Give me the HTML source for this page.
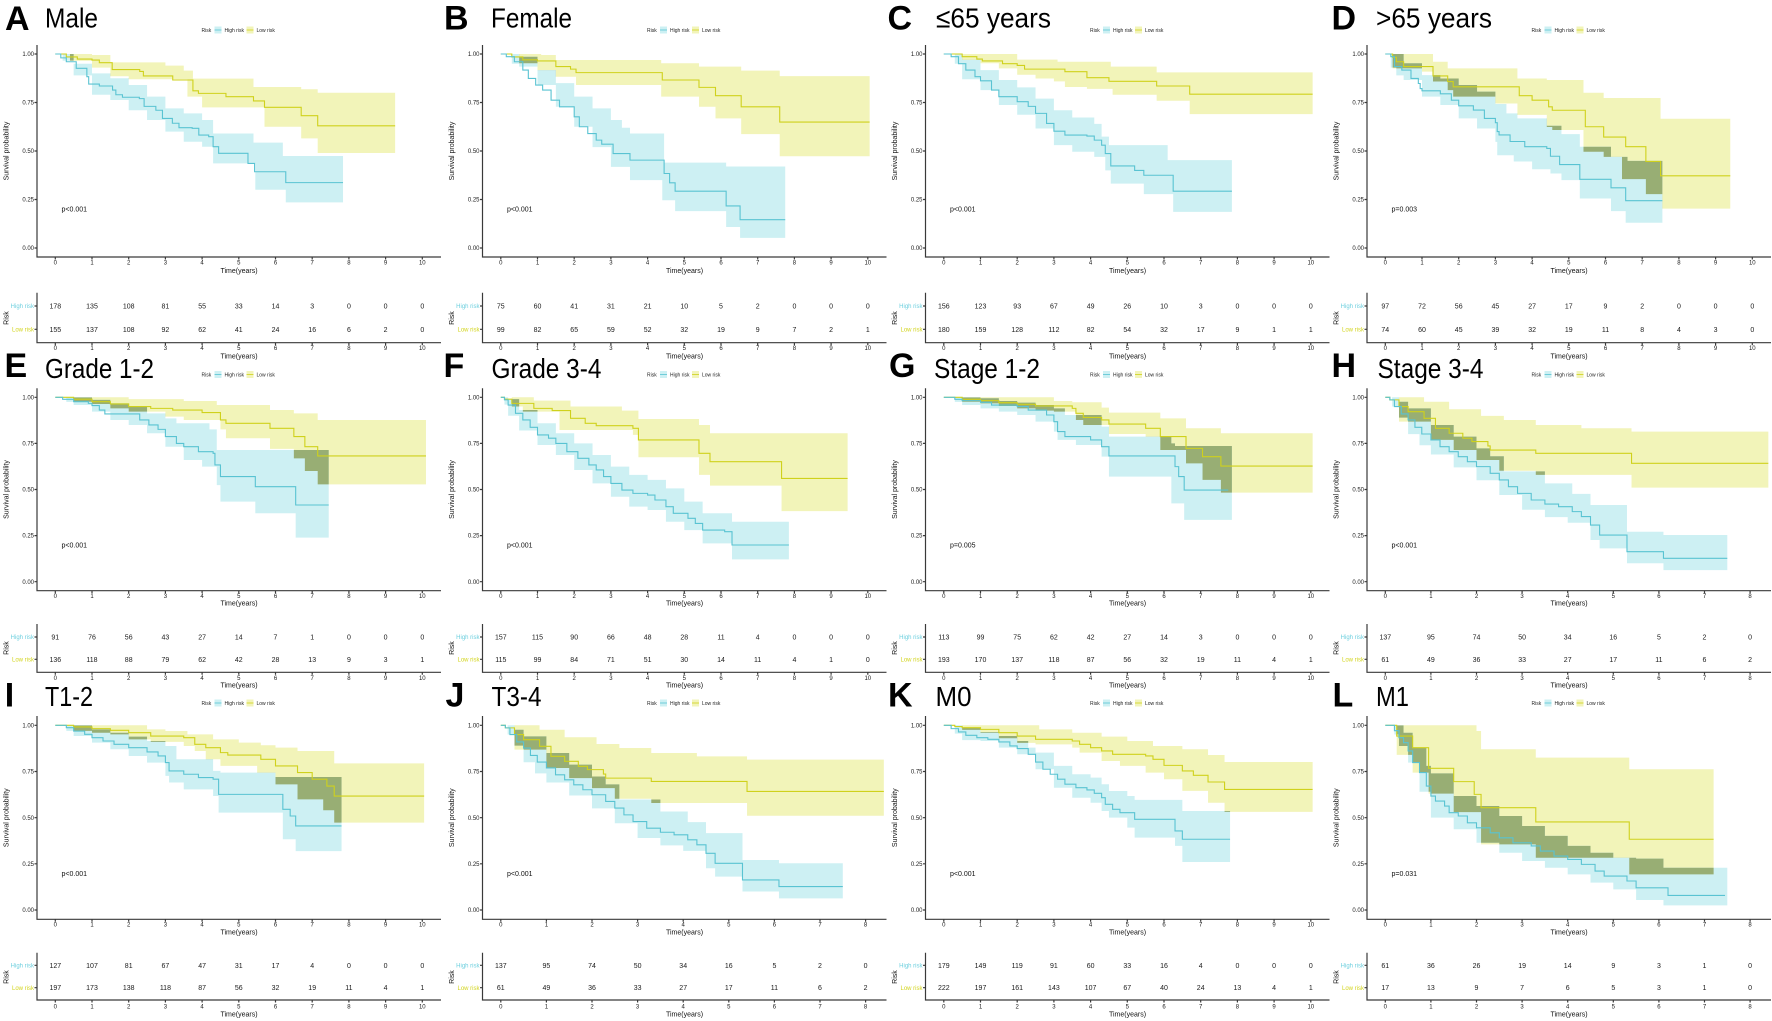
<!DOCTYPE html>
<html><head><meta charset="utf-8"><style>
html,body{margin:0;padding:0;background:#fff}
svg{display:block}
text{font-family:"Liberation Sans",sans-serif;fill:#1a1a1a}
.L{font-size:34px;font-weight:bold;fill:#000}
.T{font-size:28px;fill:#000}
.lg{font-size:5px;fill:#222}
.tk{font-size:6px;fill:#333}
.ax{font-size:7px;fill:#111}
.nm{font-size:7px;fill:#111}
.rh{font-size:6px;fill:#6ccfde}
.rl{font-size:6px;fill:#d2d41c}
.pv{font-size:7px;fill:#111}
.a{stroke:#3a3a3a;stroke-width:1.2;fill:none}
.cl{fill:none;stroke:#59c3d2;stroke-width:1.1;vector-effect:non-scaling-stroke}
.yl{fill:none;stroke:#cfd11c;stroke-width:1.1;vector-effect:non-scaling-stroke}
.cb{fill:#cdf0f3}
.yb{fill:#f2f4b9}
.ov{fill:#98ae74}
</style></head><body>
<svg xmlns="http://www.w3.org/2000/svg" width="1772" height="1021" viewBox="0 0 1772 1021">
<rect width="1772" height="1021" fill="#fff"/>
<defs>
<clipPath id="cA" clipPathUnits="userSpaceOnUse"><path d="M0,1H0.5V0.95H1V0.9H1.5V0.875H2V0.84H2.5V0.78H3V0.72H3.5V0.694H4V0.66H4.3V0.59H5.4V0.543H6.2V0.474H7.84V0.235H6.28V0.3H5.45V0.436H4.3V0.522H4V0.548H3.5V0.6H3V0.66H2.5V0.71H2V0.763H1.5V0.79H1V0.89H0.5V0.965H0.2V1H0Z"/></clipPath>
<clipPath id="cB" clipPathUnits="userSpaceOnUse"><path d="M0,1H0.5V0.986H1V0.917H1.5V0.85H2V0.78H2.5V0.72H3V0.66H3.3V0.62H3.52V0.59H4.45V0.44H6.14V0.42H7.75V0.052H6.52V0.108H6.14V0.19H4.75V0.246H4.4V0.35H3.52V0.418H3V0.52H2.5V0.625H2V0.728H1.5V0.84H1V0.935H0.5V0.95H0.3V1H0Z"/></clipPath>
<clipPath id="cC" clipPathUnits="userSpaceOnUse"><path d="M0,1H0.5V0.97H1V0.917H1.5V0.866H2V0.828H2.5V0.77H3V0.71H3.5V0.673H4.1V0.64H4.3V0.574H4.5V0.53H6.1V0.453H7.85V0.186H6.25V0.278H5.45V0.332H4.55V0.4H4.4V0.47H4.1V0.496H3.5V0.53H3V0.616H2.5V0.687H2V0.737H1.5V0.814H1V0.87H0.5V0.95H0.3V1H0Z"/></clipPath>
<clipPath id="cD" clipPathUnits="userSpaceOnUse"><path d="M0,1H0.5V0.952H1V0.891H1.5V0.874H2V0.84H2.5V0.806H3V0.742H3.3V0.694H3.6V0.668H4.4V0.63H4.8V0.587H5.3V0.522H6.15V0.47H6.6V0.449H7.55V0.13H6.55V0.19H6.15V0.255H5.3V0.35H4.8V0.384H4.5V0.406H4V0.446H3.5V0.478H3.05V0.547H3V0.616H2.5V0.668H2V0.737H1.5V0.78H1V0.866H0.5V0.89H0.3V0.93H0.15V1H0Z"/></clipPath>
<clipPath id="cE" clipPathUnits="userSpaceOnUse"><path d="M0,1H1V0.986H1.5V0.967H2V0.95H2.5V0.913H3V0.886H3.3V0.859H4.2V0.826H4.4V0.714H7.45V0.239H6.55V0.371H5.45V0.434H4.5V0.524H4.4V0.624H4V0.66H3.5V0.732H3V0.805H2.5V0.85H2V0.877H1.5V0.922H1V0.958H0.5V0.975H0.3V1H0Z"/></clipPath>
<clipPath id="cF" clipPathUnits="userSpaceOnUse"><path d="M0,1H0.2V0.99H0.5V0.931H1V0.859H1.5V0.805H2V0.75H2.5V0.687H3V0.624H3.5V0.579H4V0.552H4.5V0.506H5V0.434H5.5V0.371H6.3V0.325H7.85V0.121H6.3V0.208H5.5V0.28H5V0.325H4.5V0.389H4V0.407H3.5V0.461H3V0.533H2.5V0.606H2V0.687H1.5V0.741H1V0.82H0.5V0.9H0.2V0.96H0.1V1H0Z"/></clipPath>
<clipPath id="cG" clipPathUnits="userSpaceOnUse"><path d="M0,1H1V0.995H1.5V0.98H2V0.971H2.5V0.958H3V0.94H3.3V0.904H4.3V0.841H4.5V0.787H6.2V0.75H6.3V0.736H7.85V0.335H6.55V0.425H6.2V0.57H4.5V0.678H4.3V0.741H3.6V0.769H3.1V0.814H3V0.868H2.5V0.904H2V0.922H1.5V0.94H1V0.958H0.5V0.975H0.3V1H0Z"/></clipPath>
<clipPath id="cH" clipPathUnits="userSpaceOnUse"><path d="M0,1H0.3V0.976H0.5V0.94H1V0.85H1.5V0.787H2V0.723H2.3V0.68H2.6V0.598H3.5V0.533H4.1V0.476H4.5V0.416H5.3V0.271H6.1V0.253H7.5V0.063H6.1V0.1H5.3V0.181H4.7V0.226H4.5V0.32H4V0.35H3.5V0.39H3V0.47H2.5V0.55H2V0.62H1.5V0.69H1V0.74H0.75V0.8H0.5V0.89H0.3V0.95H0.15V1H0Z"/></clipPath>
<clipPath id="cI" clipPathUnits="userSpaceOnUse"><path d="M0,1H1V0.978H1.5V0.96H2V0.939H2.5V0.915H3V0.888H3.3V0.816H4.3V0.753H4.5V0.744H6V0.72H7.8V0.319H6.55V0.383H6.2V0.527H4.45V0.617H4.3V0.653H3.5V0.69H3.1V0.726H3V0.798H2.5V0.834H2V0.87H1.5V0.906H1V0.942H0.5V0.97H0.3V1H0Z"/></clipPath>
<clipPath id="cK" clipPathUnits="userSpaceOnUse"><path d="M0,1H0.5V0.987H1V0.964H1.5V0.942H2V0.915H2.3V0.879H2.5V0.852H3V0.78H3.5V0.735H4V0.717H4.3V0.681H4.5V0.644H5V0.617H5.2V0.596H6.5V0.536H7.8V0.26H6.5V0.347H6.3V0.392H5.2V0.446H5V0.5H4.5V0.536H4.3V0.581H4V0.608H3.5V0.662H3V0.762H2.5V0.843H2V0.879H1.5V0.915H1V0.92H0.5V0.955H0.3V1H0Z"/></clipPath>
<clipPath id="cL" clipPathUnits="userSpaceOnUse"><path d="M0,1H0.4V0.96H0.6V0.879H0.9V0.78H1V0.74H1.5V0.617H2V0.563H2.5V0.509H3V0.455H3.5V0.401H4V0.347H4.5V0.31H5V0.283H5.5V0.278H6.1V0.229H7.5V0.025H6.1V0.054H5.5V0.112H5V0.148H4.5V0.193H4V0.229H3.5V0.265H3V0.31H2.5V0.364H2V0.437H1.5V0.5H1V0.64H0.75V0.798H0.5V0.888H0.3V0.95H0.2V1H0Z"/></clipPath>
</defs>

<!-- ================= PANEL A ================= -->
<g transform="translate(0,0)">
<text class="L" x="5" y="30">A</text>
<text class="T" x="45" y="27.5" textLength="53" lengthAdjust="spacingAndGlyphs">Male</text>
<text class="lg" x="201.5" y="31.8">Risk</text><rect class="cb" x="214.5" y="26.5" width="7" height="7"/><path d="M214.5,30h7" stroke="#59c3d2" stroke-width="0.8"/><text class="lg" x="224.5" y="31.8">High risk</text><rect class="yb" x="246.5" y="26.5" width="7" height="7"/><path d="M246.5,30h7" stroke="#cfd11c" stroke-width="0.8"/><text class="lg" x="256.5" y="31.8">Low risk</text>
<g transform="translate(55.3,248) scale(36.7,-194)">
<path class="yb" d="M0,1H1V0.995H1.5V0.957H3V0.94H3.5V0.914H3.75V0.873H5.4V0.83H6.7V0.818H7.15V0.8H9.26V0.49H7.15V0.565H6.7V0.625H5.7V0.725H4V0.78H3.6V0.87H2V0.885H1.5V0.93H1V0.965H0.4V1H0Z"/>
<path class="cb" d="M0,1H0.5V0.95H1V0.9H1.5V0.875H2V0.84H2.5V0.78H3V0.72H3.5V0.694H4V0.66H4.3V0.59H5.4V0.543H6.2V0.474H7.84V0.235H6.28V0.3H5.45V0.436H4.3V0.522H4V0.548H3.5V0.6H3V0.66H2.5V0.71H2V0.763H1.5V0.79H1V0.89H0.5V0.965H0.2V1H0Z"/>
<path class="ov" clip-path="url(#cA)" d="M0,1H1V0.995H1.5V0.957H3V0.94H3.5V0.914H3.75V0.873H5.4V0.83H6.7V0.818H7.15V0.8H9.26V0.49H7.15V0.565H6.7V0.625H5.7V0.725H4V0.78H3.6V0.87H2V0.885H1.5V0.93H1V0.965H0.4V1H0Z"/>
<path class="yl" d="M0,1H0.3V0.985H0.6V0.974H1V0.969H1.2V0.955H1.55V0.92H2.3V0.91H2.4V0.887H3.2V0.866H3.75V0.81H3.9V0.797H4.65V0.78H5.4V0.758H5.7V0.725H6.7V0.682H7.15V0.63H9.26"/>
<path class="cl" d="M0,1H0.15V0.98H0.3V0.96H0.57V0.926H0.86V0.883H0.91V0.845H1.2V0.835H1.56V0.814H1.65V0.79H1.83V0.777H2.29V0.77H2.42V0.73H2.74V0.71H2.92V0.668H3.19V0.643H3.37V0.62H3.73V0.617H3.91V0.582H4.18V0.574H4.3V0.522H4.45V0.488H5.25V0.436H5.43V0.393H6.28V0.337H7.84"/>
</g>
<path class="a" d="M37,45V257H441M34.5,54H37M34.5,102.5H37M34.5,151H37M34.5,199.5H37M34.5,248H37M55.3,257v2.5M92,257v2.5M128.7,257v2.5M165.4,257v2.5M202.1,257v2.5M238.8,257v2.5M275.5,257v2.5M312.2,257v2.5M348.9,257v2.5M385.6,257v2.5M422.3,257v2.5"/>
<g class="tk" text-anchor="end"><text x="34" y="56.1">1.00</text><text x="34" y="104.6">0.75</text><text x="34" y="153.1">0.50</text><text x="34" y="201.6">0.25</text><text x="34" y="250.1">0.00</text></g>
<g class="tk" text-anchor="middle"><text x="55.3" y="264.5">0</text><text x="92" y="264.5">1</text><text x="128.7" y="264.5">2</text><text x="165.4" y="264.5">3</text><text x="202.1" y="264.5">4</text><text x="238.8" y="264.5">5</text><text x="275.5" y="264.5">6</text><text x="312.2" y="264.5">7</text><text x="348.9" y="264.5">8</text><text x="385.6" y="264.5">9</text><text x="422.3" y="264.5">10</text></g>
<text class="ax" x="239" y="273" text-anchor="middle">Time(years)</text>
<text class="ax" transform="translate(8.5,151) rotate(-90)" text-anchor="middle">Survival probability</text>
<text class="pv" x="61.5" y="211.5">p&lt;0.001</text>
<path class="a" d="M37,292.7V342.7H441M34.5,306H37M34.5,329.3H37M55.3,342.7v2.5M92,342.7v2.5M128.7,342.7v2.5M165.4,342.7v2.5M202.1,342.7v2.5M238.8,342.7v2.5M275.5,342.7v2.5M312.2,342.7v2.5M348.9,342.7v2.5M385.6,342.7v2.5M422.3,342.7v2.5"/>
<text class="rh" x="34" y="308.1" text-anchor="end">High risk</text><text class="rl" x="34" y="331.4" text-anchor="end">Low risk</text>
<g class="tk" text-anchor="middle"><text x="55.3" y="350.2">0</text><text x="92" y="350.2">1</text><text x="128.7" y="350.2">2</text><text x="165.4" y="350.2">3</text><text x="202.1" y="350.2">4</text><text x="238.8" y="350.2">5</text><text x="275.5" y="350.2">6</text><text x="312.2" y="350.2">7</text><text x="348.9" y="350.2">8</text><text x="385.6" y="350.2">9</text><text x="422.3" y="350.2">10</text></g>
<text class="ax" x="239" y="358.5" text-anchor="middle">Time(years)</text>
<text class="ax" transform="translate(8.5,318) rotate(-90)" text-anchor="middle">Risk</text>
<g class="nm" text-anchor="middle"><text x="55.3" y="308.5">178</text><text x="92" y="308.5">135</text><text x="128.7" y="308.5">108</text><text x="165.4" y="308.5">81</text><text x="202.1" y="308.5">55</text><text x="238.8" y="308.5">33</text><text x="275.5" y="308.5">14</text><text x="312.2" y="308.5">3</text><text x="348.9" y="308.5">0</text><text x="385.6" y="308.5">0</text><text x="422.3" y="308.5">0</text>
<text x="55.3" y="331.8">155</text><text x="92" y="331.8">137</text><text x="128.7" y="331.8">108</text><text x="165.4" y="331.8">92</text><text x="202.1" y="331.8">62</text><text x="238.8" y="331.8">41</text><text x="275.5" y="331.8">24</text><text x="312.2" y="331.8">16</text><text x="348.9" y="331.8">6</text><text x="385.6" y="331.8">2</text><text x="422.3" y="331.8">0</text></g>
</g>

<!-- ================= PANEL B ================= -->
<g transform="translate(445.5,0)">
<text class="L" x="-1.5" y="29.5">B</text>
<text class="T" x="45.5" y="27.5" textLength="81" lengthAdjust="spacingAndGlyphs">Female</text>
<text class="lg" x="201.5" y="31.8">Risk</text><rect class="cb" x="214.5" y="26.5" width="7" height="7"/><path d="M214.5,30h7" stroke="#59c3d2" stroke-width="0.8"/><text class="lg" x="224.5" y="31.8">High risk</text><rect class="yb" x="246.5" y="26.5" width="7" height="7"/><path d="M246.5,30h7" stroke="#cfd11c" stroke-width="0.8"/><text class="lg" x="256.5" y="31.8">Low risk</text>
<g transform="translate(55.3,248) scale(36.7,-194)">
<path class="yb" d="M0,1H1.1V0.995H1.5V0.969H4.37V0.952H5.4V0.935H6.55V0.914H7.6V0.886H10.05V0.473H7.6V0.587H6.55V0.668H5.85V0.728H5.4V0.78H4.37V0.84H2.05V0.883H1.5V0.917H1V0.952H0.5V1H0Z"/>
<path class="cb" d="M0,1H0.5V0.986H1V0.917H1.5V0.85H2V0.78H2.5V0.72H3V0.66H3.3V0.62H3.52V0.59H4.45V0.44H6.14V0.42H7.75V0.052H6.52V0.108H6.14V0.19H4.75V0.246H4.4V0.35H3.52V0.418H3V0.52H2.5V0.625H2V0.728H1.5V0.84H1V0.935H0.5V0.95H0.3V1H0Z"/>
<path class="ov" clip-path="url(#cB)" d="M0,1H1.1V0.995H1.5V0.969H4.37V0.952H5.4V0.935H6.55V0.914H7.6V0.886H10.05V0.473H7.6V0.587H6.55V0.668H5.85V0.728H5.4V0.78H4.37V0.84H2.05V0.883H1.5V0.917H1V0.952H0.5V1H0Z"/>
<path class="yl" d="M0,1H0.3V0.985H0.6V0.97H1V0.964H1.5V0.935H1.9V0.922H2.05V0.904H4.4V0.866H5.4V0.828H5.85V0.785H6.55V0.728H7.6V0.649H10.05"/>
<path class="cl" d="M0,1H0.15V0.986H0.37V0.96H0.6V0.917H0.75V0.874H0.95V0.84H1.14V0.814H1.37V0.762H1.6V0.728H2V0.676H2.14V0.625H2.37V0.59H2.6V0.556H2.75V0.535H3.06V0.487H3.52V0.453H4.45V0.384H4.6V0.336H4.75V0.293H6.14V0.217H6.52V0.146H7.75"/>
</g>
<path class="a" d="M37,45V257H441M34.5,54H37M34.5,102.5H37M34.5,151H37M34.5,199.5H37M34.5,248H37M55.3,257v2.5M92,257v2.5M128.7,257v2.5M165.4,257v2.5M202.1,257v2.5M238.8,257v2.5M275.5,257v2.5M312.2,257v2.5M348.9,257v2.5M385.6,257v2.5M422.3,257v2.5"/>
<g class="tk" text-anchor="end"><text x="34" y="56.1">1.00</text><text x="34" y="104.6">0.75</text><text x="34" y="153.1">0.50</text><text x="34" y="201.6">0.25</text><text x="34" y="250.1">0.00</text></g>
<g class="tk" text-anchor="middle"><text x="55.3" y="264.5">0</text><text x="92" y="264.5">1</text><text x="128.7" y="264.5">2</text><text x="165.4" y="264.5">3</text><text x="202.1" y="264.5">4</text><text x="238.8" y="264.5">5</text><text x="275.5" y="264.5">6</text><text x="312.2" y="264.5">7</text><text x="348.9" y="264.5">8</text><text x="385.6" y="264.5">9</text><text x="422.3" y="264.5">10</text></g>
<text class="ax" x="239" y="273" text-anchor="middle">Time(years)</text>
<text class="ax" transform="translate(8.5,151) rotate(-90)" text-anchor="middle">Survival probability</text>
<text class="pv" x="61.5" y="211.5">p&lt;0.001</text>
<path class="a" d="M37,292.7V342.7H441M34.5,306H37M34.5,329.3H37M55.3,342.7v2.5M92,342.7v2.5M128.7,342.7v2.5M165.4,342.7v2.5M202.1,342.7v2.5M238.8,342.7v2.5M275.5,342.7v2.5M312.2,342.7v2.5M348.9,342.7v2.5M385.6,342.7v2.5M422.3,342.7v2.5"/>
<text class="rh" x="34" y="308.1" text-anchor="end">High risk</text><text class="rl" x="34" y="331.4" text-anchor="end">Low risk</text>
<g class="tk" text-anchor="middle"><text x="55.3" y="350.2">0</text><text x="92" y="350.2">1</text><text x="128.7" y="350.2">2</text><text x="165.4" y="350.2">3</text><text x="202.1" y="350.2">4</text><text x="238.8" y="350.2">5</text><text x="275.5" y="350.2">6</text><text x="312.2" y="350.2">7</text><text x="348.9" y="350.2">8</text><text x="385.6" y="350.2">9</text><text x="422.3" y="350.2">10</text></g>
<text class="ax" x="239" y="358.5" text-anchor="middle">Time(years)</text>
<text class="ax" transform="translate(8.5,318) rotate(-90)" text-anchor="middle">Risk</text>
<g class="nm" text-anchor="middle"><text x="55.3" y="308.5">75</text><text x="92" y="308.5">60</text><text x="128.7" y="308.5">41</text><text x="165.4" y="308.5">31</text><text x="202.1" y="308.5">21</text><text x="238.8" y="308.5">10</text><text x="275.5" y="308.5">5</text><text x="312.2" y="308.5">2</text><text x="348.9" y="308.5">0</text><text x="385.6" y="308.5">0</text><text x="422.3" y="308.5">0</text>
<text x="55.3" y="331.8">99</text><text x="92" y="331.8">82</text><text x="128.7" y="331.8">65</text><text x="165.4" y="331.8">59</text><text x="202.1" y="331.8">52</text><text x="238.8" y="331.8">32</text><text x="275.5" y="331.8">19</text><text x="312.2" y="331.8">9</text><text x="348.9" y="331.8">7</text><text x="385.6" y="331.8">2</text><text x="422.3" y="331.8">1</text></g>
</g>

<!-- ================= PANEL C ================= -->
<g transform="translate(888.5,0)">
<text class="L" x="-1" y="29.5">C</text>
<text class="T" x="47.5" y="27.5" textLength="115" lengthAdjust="spacingAndGlyphs">≤65 years</text>
<text class="lg" x="201.5" y="31.8">Risk</text><rect class="cb" x="214.5" y="26.5" width="7" height="7"/><path d="M214.5,30h7" stroke="#59c3d2" stroke-width="0.8"/><text class="lg" x="224.5" y="31.8">High risk</text><rect class="yb" x="246.5" y="26.5" width="7" height="7"/><path d="M246.5,30h7" stroke="#cfd11c" stroke-width="0.8"/><text class="lg" x="256.5" y="31.8">Low risk</text>
<g transform="translate(55.3,248) scale(36.7,-194)">
<path class="yb" d="M0,1H2V0.971H3.1V0.96H4.55V0.935H5.8V0.905H10.05V0.69H6.7V0.759H5.8V0.79H4.6V0.82H3.9V0.83H3.3V0.859H3V0.874H2.5V0.893H2V0.926H1.5V0.952H1V0.97H0.5V1H0Z"/>
<path class="cb" d="M0,1H0.5V0.97H1V0.917H1.5V0.866H2V0.828H2.5V0.77H3V0.71H3.5V0.673H4.1V0.64H4.3V0.574H4.5V0.53H6.1V0.453H7.85V0.186H6.25V0.278H5.45V0.332H4.55V0.4H4.4V0.47H4.1V0.496H3.5V0.53H3V0.616H2.5V0.687H2V0.737H1.5V0.814H1V0.87H0.5V0.95H0.3V1H0Z"/>
<path class="ov" clip-path="url(#cC)" d="M0,1H2V0.971H3.1V0.96H4.55V0.935H5.8V0.905H10.05V0.69H6.7V0.759H5.8V0.79H4.6V0.82H3.9V0.83H3.3V0.859H3V0.874H2.5V0.893H2V0.926H1.5V0.952H1V0.97H0.5V1H0Z"/>
<path class="yl" d="M0,1H0.5V0.986H0.9V0.974H1.05V0.964H1.6V0.95H2V0.941H2.2V0.922H3.3V0.909H3.9V0.878H4.5V0.859H5.8V0.835H6.7V0.793H10.05"/>
<path class="cl" d="M0,1H0.2V0.986H0.4V0.95H0.6V0.917H0.85V0.883H1V0.862H1.3V0.814H1.5V0.78H2V0.754H2.3V0.73H2.5V0.694H2.8V0.642H3V0.602H3.3V0.582H3.9V0.577H4.1V0.556H4.3V0.53H4.4V0.487H4.55V0.423H5.2V0.4H5.45V0.375H6.25V0.293H7.85"/>
</g>
<path class="a" d="M37,45V257H441M34.5,54H37M34.5,102.5H37M34.5,151H37M34.5,199.5H37M34.5,248H37M55.3,257v2.5M92,257v2.5M128.7,257v2.5M165.4,257v2.5M202.1,257v2.5M238.8,257v2.5M275.5,257v2.5M312.2,257v2.5M348.9,257v2.5M385.6,257v2.5M422.3,257v2.5"/>
<g class="tk" text-anchor="end"><text x="34" y="56.1">1.00</text><text x="34" y="104.6">0.75</text><text x="34" y="153.1">0.50</text><text x="34" y="201.6">0.25</text><text x="34" y="250.1">0.00</text></g>
<g class="tk" text-anchor="middle"><text x="55.3" y="264.5">0</text><text x="92" y="264.5">1</text><text x="128.7" y="264.5">2</text><text x="165.4" y="264.5">3</text><text x="202.1" y="264.5">4</text><text x="238.8" y="264.5">5</text><text x="275.5" y="264.5">6</text><text x="312.2" y="264.5">7</text><text x="348.9" y="264.5">8</text><text x="385.6" y="264.5">9</text><text x="422.3" y="264.5">10</text></g>
<text class="ax" x="239" y="273" text-anchor="middle">Time(years)</text>
<text class="ax" transform="translate(8.5,151) rotate(-90)" text-anchor="middle">Survival probability</text>
<text class="pv" x="61.5" y="211.5">p&lt;0.001</text>
<path class="a" d="M37,292.7V342.7H441M34.5,306H37M34.5,329.3H37M55.3,342.7v2.5M92,342.7v2.5M128.7,342.7v2.5M165.4,342.7v2.5M202.1,342.7v2.5M238.8,342.7v2.5M275.5,342.7v2.5M312.2,342.7v2.5M348.9,342.7v2.5M385.6,342.7v2.5M422.3,342.7v2.5"/>
<text class="rh" x="34" y="308.1" text-anchor="end">High risk</text><text class="rl" x="34" y="331.4" text-anchor="end">Low risk</text>
<g class="tk" text-anchor="middle"><text x="55.3" y="350.2">0</text><text x="92" y="350.2">1</text><text x="128.7" y="350.2">2</text><text x="165.4" y="350.2">3</text><text x="202.1" y="350.2">4</text><text x="238.8" y="350.2">5</text><text x="275.5" y="350.2">6</text><text x="312.2" y="350.2">7</text><text x="348.9" y="350.2">8</text><text x="385.6" y="350.2">9</text><text x="422.3" y="350.2">10</text></g>
<text class="ax" x="239" y="358.5" text-anchor="middle">Time(years)</text>
<text class="ax" transform="translate(8.5,318) rotate(-90)" text-anchor="middle">Risk</text>
<g class="nm" text-anchor="middle"><text x="55.3" y="308.5">156</text><text x="92" y="308.5">123</text><text x="128.7" y="308.5">93</text><text x="165.4" y="308.5">67</text><text x="202.1" y="308.5">49</text><text x="238.8" y="308.5">26</text><text x="275.5" y="308.5">10</text><text x="312.2" y="308.5">3</text><text x="348.9" y="308.5">0</text><text x="385.6" y="308.5">0</text><text x="422.3" y="308.5">0</text>
<text x="55.3" y="331.8">180</text><text x="92" y="331.8">159</text><text x="128.7" y="331.8">128</text><text x="165.4" y="331.8">112</text><text x="202.1" y="331.8">82</text><text x="238.8" y="331.8">54</text><text x="275.5" y="331.8">32</text><text x="312.2" y="331.8">17</text><text x="348.9" y="331.8">9</text><text x="385.6" y="331.8">1</text><text x="422.3" y="331.8">1</text></g>
</g>

<!-- ================= PANEL D ================= -->
<g transform="translate(1330,0)">
<text class="L" x="1.5" y="29.5">D</text>
<text class="T" x="46" y="27.5" textLength="116" lengthAdjust="spacingAndGlyphs">&gt;65 years</text>
<text class="lg" x="201.5" y="31.8">Risk</text><rect class="cb" x="214.5" y="26.5" width="7" height="7"/><path d="M214.5,30h7" stroke="#59c3d2" stroke-width="0.8"/><text class="lg" x="224.5" y="31.8">High risk</text><rect class="yb" x="246.5" y="26.5" width="7" height="7"/><path d="M246.5,30h7" stroke="#cfd11c" stroke-width="0.8"/><text class="lg" x="256.5" y="31.8">Low risk</text>
<g transform="translate(55.3,248) scale(36.7,-194)">
<path class="yb" d="M0,1H1.3V0.96H1.7V0.926H3.6V0.874H4.4V0.866H5.4V0.8H5.95V0.773H7.5V0.666H9.4V0.203H7.55V0.278H7.1V0.355H6.45V0.47H5.95V0.496H5.4V0.608H4.55V0.624H4.4V0.686H3.6V0.745H3V0.78H1.85V0.814H1.7V0.858H1.3V0.909H1V0.926H0.2V1H0Z"/>
<path class="cb" d="M0,1H0.5V0.952H1V0.891H1.5V0.874H2V0.84H2.5V0.806H3V0.742H3.3V0.694H3.6V0.668H4.4V0.63H4.8V0.587H5.3V0.522H6.15V0.47H6.6V0.449H7.55V0.13H6.55V0.19H6.15V0.255H5.3V0.35H4.8V0.384H4.5V0.406H4V0.446H3.5V0.478H3.05V0.547H3V0.616H2.5V0.668H2V0.737H1.5V0.78H1V0.866H0.5V0.89H0.3V0.93H0.15V1H0Z"/>
<path class="ov" clip-path="url(#cD)" d="M0,1H1.3V0.96H1.7V0.926H3.6V0.874H4.4V0.866H5.4V0.8H5.95V0.773H7.5V0.666H9.4V0.203H7.55V0.278H7.1V0.355H6.45V0.47H5.95V0.496H5.4V0.608H4.55V0.624H4.4V0.686H3.6V0.745H3V0.78H1.85V0.814H1.7V0.858H1.3V0.909H1V0.926H0.2V1H0Z"/>
<path class="yl" d="M0,1H0.2V0.983H0.3V0.96H0.5V0.935H1.3V0.887H1.7V0.858H1.85V0.831H3.65V0.785H4V0.762H4.45V0.728H4.55V0.71H5.45V0.625H5.95V0.572H6.55V0.522H7.1V0.446H7.5V0.372H9.4"/>
<path class="cl" d="M0,1H0.15V0.986H0.25V0.935H0.45V0.917H0.7V0.874H0.9V0.848H0.95V0.822H1V0.81H1.5V0.795H1.8V0.762H2V0.733H2.4V0.711H2.7V0.668H3V0.646H3.05V0.6H3.1V0.583H3.4V0.549H3.8V0.522H4.4V0.513H4.5V0.473H4.75V0.43H5.3V0.354H6.15V0.31H6.55V0.244H7.55"/>
</g>
<path class="a" d="M37,45V257H441M34.5,54H37M34.5,102.5H37M34.5,151H37M34.5,199.5H37M34.5,248H37M55.3,257v2.5M92,257v2.5M128.7,257v2.5M165.4,257v2.5M202.1,257v2.5M238.8,257v2.5M275.5,257v2.5M312.2,257v2.5M348.9,257v2.5M385.6,257v2.5M422.3,257v2.5"/>
<g class="tk" text-anchor="end"><text x="34" y="56.1">1.00</text><text x="34" y="104.6">0.75</text><text x="34" y="153.1">0.50</text><text x="34" y="201.6">0.25</text><text x="34" y="250.1">0.00</text></g>
<g class="tk" text-anchor="middle"><text x="55.3" y="264.5">0</text><text x="92" y="264.5">1</text><text x="128.7" y="264.5">2</text><text x="165.4" y="264.5">3</text><text x="202.1" y="264.5">4</text><text x="238.8" y="264.5">5</text><text x="275.5" y="264.5">6</text><text x="312.2" y="264.5">7</text><text x="348.9" y="264.5">8</text><text x="385.6" y="264.5">9</text><text x="422.3" y="264.5">10</text></g>
<text class="ax" x="239" y="273" text-anchor="middle">Time(years)</text>
<text class="ax" transform="translate(8.5,151) rotate(-90)" text-anchor="middle">Survival probability</text>
<text class="pv" x="61.5" y="211.5">p=0.003</text>
<path class="a" d="M37,292.7V342.7H441M34.5,306H37M34.5,329.3H37M55.3,342.7v2.5M92,342.7v2.5M128.7,342.7v2.5M165.4,342.7v2.5M202.1,342.7v2.5M238.8,342.7v2.5M275.5,342.7v2.5M312.2,342.7v2.5M348.9,342.7v2.5M385.6,342.7v2.5M422.3,342.7v2.5"/>
<text class="rh" x="34" y="308.1" text-anchor="end">High risk</text><text class="rl" x="34" y="331.4" text-anchor="end">Low risk</text>
<g class="tk" text-anchor="middle"><text x="55.3" y="350.2">0</text><text x="92" y="350.2">1</text><text x="128.7" y="350.2">2</text><text x="165.4" y="350.2">3</text><text x="202.1" y="350.2">4</text><text x="238.8" y="350.2">5</text><text x="275.5" y="350.2">6</text><text x="312.2" y="350.2">7</text><text x="348.9" y="350.2">8</text><text x="385.6" y="350.2">9</text><text x="422.3" y="350.2">10</text></g>
<text class="ax" x="239" y="358.5" text-anchor="middle">Time(years)</text>
<text class="ax" transform="translate(8.5,318) rotate(-90)" text-anchor="middle">Risk</text>
<g class="nm" text-anchor="middle"><text x="55.3" y="308.5">97</text><text x="92" y="308.5">72</text><text x="128.7" y="308.5">56</text><text x="165.4" y="308.5">45</text><text x="202.1" y="308.5">27</text><text x="238.8" y="308.5">17</text><text x="275.5" y="308.5">9</text><text x="312.2" y="308.5">2</text><text x="348.9" y="308.5">0</text><text x="385.6" y="308.5">0</text><text x="422.3" y="308.5">0</text>
<text x="55.3" y="331.8">74</text><text x="92" y="331.8">60</text><text x="128.7" y="331.8">45</text><text x="165.4" y="331.8">39</text><text x="202.1" y="331.8">32</text><text x="238.8" y="331.8">19</text><text x="275.5" y="331.8">11</text><text x="312.2" y="331.8">8</text><text x="348.9" y="331.8">4</text><text x="385.6" y="331.8">3</text><text x="422.3" y="331.8">0</text></g>
</g>

<!-- ================= PANEL E ================= -->
<g transform="translate(0,0)">
<text class="L" x="4.5" y="377">E</text>
<text class="T" x="45" y="378" textLength="109" lengthAdjust="spacingAndGlyphs">Grade 1-2</text>
<text class="lg" x="201.5" y="376.3">Risk</text><rect class="cb" x="214.5" y="371" width="7" height="7"/><path d="M214.5,374.5h7" stroke="#59c3d2" stroke-width="0.8"/><text class="lg" x="224.5" y="376.3">High risk</text><rect class="yb" x="246.5" y="371" width="7" height="7"/><path d="M246.5,374.5h7" stroke="#cfd11c" stroke-width="0.8"/><text class="lg" x="256.5" y="376.3">Low risk</text>
<g transform="translate(55.3,581.7) scale(36.7,-184.4)">
<path class="yb" d="M0,1H2V0.99H3.5V0.98H4.4V0.958H5.85V0.931H6.5V0.913H7.15V0.877H10.1V0.528H7.15V0.6H6.8V0.669H6.5V0.72H5.85V0.778H4.65V0.826H4.5V0.877H3.5V0.895H3V0.922H2V0.94H1.5V0.964H1V0.976H0.5V1H0Z"/>
<path class="cb" d="M0,1H1V0.986H1.5V0.967H2V0.95H2.5V0.913H3V0.886H3.3V0.859H4.2V0.826H4.4V0.714H7.45V0.239H6.55V0.371H5.45V0.434H4.5V0.524H4.4V0.624H4V0.66H3.5V0.732H3V0.805H2.5V0.85H2V0.877H1.5V0.922H1V0.958H0.5V0.975H0.3V1H0Z"/>
<path class="ov" clip-path="url(#cE)" d="M0,1H2V0.99H3.5V0.98H4.4V0.958H5.85V0.931H6.5V0.913H7.15V0.877H10.1V0.528H7.15V0.6H6.8V0.669H6.5V0.72H5.85V0.778H4.65V0.826H4.5V0.877H3.5V0.895H3V0.922H2V0.94H1.5V0.964H1V0.976H0.5V1H0Z"/>
<path class="yl" d="M0,1H0.5V0.99H1V0.976H1.5V0.964H2V0.95H2.6V0.94H3.2V0.931H4V0.917H4.5V0.877H4.65V0.859H5.85V0.832H6.5V0.787H6.8V0.732H7.15V0.682H10.1"/>
<path class="cl" d="M0,1H0.2V0.989H0.5V0.976H0.9V0.967H1V0.955H1.2V0.931H1.35V0.91H2.3V0.877H2.55V0.85H2.8V0.826H3V0.787H3.3V0.75H3.5V0.732H3.9V0.705H4.3V0.696H4.35V0.633H4.5V0.57H5.45V0.515H6.55V0.416H7.45"/>
</g>
<path class="a" d="M37,388.3V590.7H441M34.5,397.3H37M34.5,443.4H37M34.5,489.5H37M34.5,535.6H37M34.5,581.7H37M55.3,590.7v2.5M92,590.7v2.5M128.7,590.7v2.5M165.4,590.7v2.5M202.1,590.7v2.5M238.8,590.7v2.5M275.5,590.7v2.5M312.2,590.7v2.5M348.9,590.7v2.5M385.6,590.7v2.5M422.3,590.7v2.5"/>
<g class="tk" text-anchor="end"><text x="34" y="399.4">1.00</text><text x="34" y="445.5">0.75</text><text x="34" y="491.6">0.50</text><text x="34" y="537.7">0.25</text><text x="34" y="583.8">0.00</text></g>
<g class="tk" text-anchor="middle"><text x="55.3" y="598">0</text><text x="92" y="598">1</text><text x="128.7" y="598">2</text><text x="165.4" y="598">3</text><text x="202.1" y="598">4</text><text x="238.8" y="598">5</text><text x="275.5" y="598">6</text><text x="312.2" y="598">7</text><text x="348.9" y="598">8</text><text x="385.6" y="598">9</text><text x="422.3" y="598">10</text></g>
<text class="ax" x="239" y="605.5" text-anchor="middle">Time(years)</text>
<text class="ax" transform="translate(8.5,489.5) rotate(-90)" text-anchor="middle">Survival probability</text>
<text class="pv" x="61.5" y="547.3">p&lt;0.001</text>
<path class="a" d="M37,624V672.3H441M34.5,637H37M34.5,659.3H37M55.3,672.3v2.5M92,672.3v2.5M128.7,672.3v2.5M165.4,672.3v2.5M202.1,672.3v2.5M238.8,672.3v2.5M275.5,672.3v2.5M312.2,672.3v2.5M348.9,672.3v2.5M385.6,672.3v2.5M422.3,672.3v2.5"/>
<text class="rh" x="34" y="639.1" text-anchor="end">High risk</text><text class="rl" x="34" y="661.4" text-anchor="end">Low risk</text>
<g class="tk" text-anchor="middle"><text x="55.3" y="680">0</text><text x="92" y="680">1</text><text x="128.7" y="680">2</text><text x="165.4" y="680">3</text><text x="202.1" y="680">4</text><text x="238.8" y="680">5</text><text x="275.5" y="680">6</text><text x="312.2" y="680">7</text><text x="348.9" y="680">8</text><text x="385.6" y="680">9</text><text x="422.3" y="680">10</text></g>
<text class="ax" x="239" y="687.5" text-anchor="middle">Time(years)</text>
<text class="ax" transform="translate(8.5,648) rotate(-90)" text-anchor="middle">Risk</text>
<g class="nm" text-anchor="middle"><text x="55.3" y="639.5">91</text><text x="92" y="639.5">76</text><text x="128.7" y="639.5">56</text><text x="165.4" y="639.5">43</text><text x="202.1" y="639.5">27</text><text x="238.8" y="639.5">14</text><text x="275.5" y="639.5">7</text><text x="312.2" y="639.5">1</text><text x="348.9" y="639.5">0</text><text x="385.6" y="639.5">0</text><text x="422.3" y="639.5">0</text>
<text x="55.3" y="661.8">136</text><text x="92" y="661.8">118</text><text x="128.7" y="661.8">88</text><text x="165.4" y="661.8">79</text><text x="202.1" y="661.8">62</text><text x="238.8" y="661.8">42</text><text x="275.5" y="661.8">28</text><text x="312.2" y="661.8">13</text><text x="348.9" y="661.8">9</text><text x="385.6" y="661.8">3</text><text x="422.3" y="661.8">1</text></g>
</g>

<!-- ================= PANEL F ================= -->
<g transform="translate(445.5,0)">
<text class="L" x="-2" y="377">F</text>
<text class="T" x="46" y="378" textLength="110" lengthAdjust="spacingAndGlyphs">Grade 3-4</text>
<text class="lg" x="201.5" y="376.3">Risk</text><rect class="cb" x="214.5" y="371" width="7" height="7"/><path d="M214.5,374.5h7" stroke="#59c3d2" stroke-width="0.8"/><text class="lg" x="224.5" y="376.3">High risk</text><rect class="yb" x="246.5" y="371" width="7" height="7"/><path d="M246.5,374.5h7" stroke="#cfd11c" stroke-width="0.8"/><text class="lg" x="256.5" y="376.3">Low risk</text>
<g transform="translate(55.3,581.7) scale(36.7,-184.4)">
<path class="yb" d="M0,1H0.9V0.982H1.9V0.95H3.3V0.928H3.75V0.882H5.4V0.85H5.7V0.805H9.45V0.383H7.65V0.521H5.7V0.579H5.4V0.675H3.75V0.796H3.6V0.823H1.6V0.922H0.6V0.95H0.3V1H0Z"/>
<path class="cb" d="M0,1H0.2V0.99H0.5V0.931H1V0.859H1.5V0.805H2V0.75H2.5V0.687H3V0.624H3.5V0.579H4V0.552H4.5V0.506H5V0.434H5.5V0.371H6.3V0.325H7.85V0.121H6.3V0.208H5.5V0.28H5V0.325H4.5V0.389H4V0.407H3.5V0.461H3V0.533H2.5V0.606H2V0.687H1.5V0.741H1V0.82H0.5V0.9H0.2V0.96H0.1V1H0Z"/>
<path class="ov" clip-path="url(#cF)" d="M0,1H0.9V0.982H1.9V0.95H3.3V0.928H3.75V0.882H5.4V0.85H5.7V0.805H9.45V0.383H7.65V0.521H5.7V0.579H5.4V0.675H3.75V0.796H3.6V0.823H1.6V0.922H0.6V0.95H0.3V1H0Z"/>
<path class="yl" d="M0,1H0.1V0.99H0.3V0.967H0.9V0.94H1.4V0.928H1.9V0.886H2.3V0.859H2.6V0.846H3.6V0.832H3.75V0.769H5.4V0.696H5.7V0.651H7.65V0.56H9.45"/>
<path class="cl" d="M0,1H0.1V0.986H0.2V0.958H0.4V0.913H0.6V0.877H0.8V0.837H1V0.796H1.3V0.778H1.5V0.75H1.8V0.705H2.1V0.669H2.4V0.633H2.6V0.606H2.8V0.57H3V0.533H3.3V0.497H3.6V0.479H4V0.47H4.2V0.443H4.5V0.407H4.7V0.371H5.1V0.344H5.3V0.316H5.5V0.28H6.1V0.271H6.3V0.199H7.85"/>
</g>
<path class="a" d="M37,388.3V590.7H441M34.5,397.3H37M34.5,443.4H37M34.5,489.5H37M34.5,535.6H37M34.5,581.7H37M55.3,590.7v2.5M92,590.7v2.5M128.7,590.7v2.5M165.4,590.7v2.5M202.1,590.7v2.5M238.8,590.7v2.5M275.5,590.7v2.5M312.2,590.7v2.5M348.9,590.7v2.5M385.6,590.7v2.5M422.3,590.7v2.5"/>
<g class="tk" text-anchor="end"><text x="34" y="399.4">1.00</text><text x="34" y="445.5">0.75</text><text x="34" y="491.6">0.50</text><text x="34" y="537.7">0.25</text><text x="34" y="583.8">0.00</text></g>
<g class="tk" text-anchor="middle"><text x="55.3" y="598">0</text><text x="92" y="598">1</text><text x="128.7" y="598">2</text><text x="165.4" y="598">3</text><text x="202.1" y="598">4</text><text x="238.8" y="598">5</text><text x="275.5" y="598">6</text><text x="312.2" y="598">7</text><text x="348.9" y="598">8</text><text x="385.6" y="598">9</text><text x="422.3" y="598">10</text></g>
<text class="ax" x="239" y="605.5" text-anchor="middle">Time(years)</text>
<text class="ax" transform="translate(8.5,489.5) rotate(-90)" text-anchor="middle">Survival probability</text>
<text class="pv" x="61.5" y="547.3">p&lt;0.001</text>
<path class="a" d="M37,624V672.3H441M34.5,637H37M34.5,659.3H37M55.3,672.3v2.5M92,672.3v2.5M128.7,672.3v2.5M165.4,672.3v2.5M202.1,672.3v2.5M238.8,672.3v2.5M275.5,672.3v2.5M312.2,672.3v2.5M348.9,672.3v2.5M385.6,672.3v2.5M422.3,672.3v2.5"/>
<text class="rh" x="34" y="639.1" text-anchor="end">High risk</text><text class="rl" x="34" y="661.4" text-anchor="end">Low risk</text>
<g class="tk" text-anchor="middle"><text x="55.3" y="680">0</text><text x="92" y="680">1</text><text x="128.7" y="680">2</text><text x="165.4" y="680">3</text><text x="202.1" y="680">4</text><text x="238.8" y="680">5</text><text x="275.5" y="680">6</text><text x="312.2" y="680">7</text><text x="348.9" y="680">8</text><text x="385.6" y="680">9</text><text x="422.3" y="680">10</text></g>
<text class="ax" x="239" y="687.5" text-anchor="middle">Time(years)</text>
<text class="ax" transform="translate(8.5,648) rotate(-90)" text-anchor="middle">Risk</text>
<g class="nm" text-anchor="middle"><text x="55.3" y="639.5">157</text><text x="92" y="639.5">115</text><text x="128.7" y="639.5">90</text><text x="165.4" y="639.5">66</text><text x="202.1" y="639.5">48</text><text x="238.8" y="639.5">28</text><text x="275.5" y="639.5">11</text><text x="312.2" y="639.5">4</text><text x="348.9" y="639.5">0</text><text x="385.6" y="639.5">0</text><text x="422.3" y="639.5">0</text>
<text x="55.3" y="661.8">115</text><text x="92" y="661.8">99</text><text x="128.7" y="661.8">84</text><text x="165.4" y="661.8">71</text><text x="202.1" y="661.8">51</text><text x="238.8" y="661.8">30</text><text x="275.5" y="661.8">14</text><text x="312.2" y="661.8">11</text><text x="348.9" y="661.8">4</text><text x="385.6" y="661.8">1</text><text x="422.3" y="661.8">0</text></g>
</g>

<!-- ================= PANEL G ================= -->
<g transform="translate(888.5,0)">
<text class="L" x="0.5" y="377">G</text>
<text class="T" x="45.5" y="378" textLength="106" lengthAdjust="spacingAndGlyphs">Stage 1-2</text>
<text class="lg" x="201.5" y="376.3">Risk</text><rect class="cb" x="214.5" y="371" width="7" height="7"/><path d="M214.5,374.5h7" stroke="#59c3d2" stroke-width="0.8"/><text class="lg" x="224.5" y="376.3">High risk</text><rect class="yb" x="246.5" y="371" width="7" height="7"/><path d="M246.5,374.5h7" stroke="#cfd11c" stroke-width="0.8"/><text class="lg" x="256.5" y="376.3">Low risk</text>
<g transform="translate(55.3,581.7) scale(36.7,-184.4)">
<path class="yb" d="M0,1H3V0.98H3.5V0.973H4.3V0.944H4.5V0.917H5.9V0.886H6.6V0.832H7.55V0.805H10.05V0.483H7.55V0.552H7.05V0.642H6.6V0.714H5.9V0.787H5.5V0.801H4.5V0.85H3.8V0.877H3.6V0.922H3V0.928H2.5V0.94H2V0.953H1.5V0.967H1V0.976H0.5V1H0Z"/>
<path class="cb" d="M0,1H1V0.995H1.5V0.98H2V0.971H2.5V0.958H3V0.94H3.3V0.904H4.3V0.841H4.5V0.787H6.2V0.75H6.3V0.736H7.85V0.335H6.55V0.425H6.2V0.57H4.5V0.678H4.3V0.741H3.6V0.769H3.1V0.814H3V0.868H2.5V0.904H2V0.922H1.5V0.94H1V0.958H0.5V0.975H0.3V1H0Z"/>
<path class="ov" clip-path="url(#cG)" d="M0,1H3V0.98H3.5V0.973H4.3V0.944H4.5V0.917H5.9V0.886H6.6V0.832H7.55V0.805H10.05V0.483H7.55V0.552H7.05V0.642H6.6V0.714H5.9V0.787H5.5V0.801H4.5V0.85H3.8V0.877H3.6V0.922H3V0.928H2.5V0.94H2V0.953H1.5V0.967H1V0.976H0.5V1H0Z"/>
<path class="yl" d="M0,1H0.5V0.989H1V0.982H1.5V0.971H2V0.962H2.5V0.953H3.5V0.94H3.6V0.913H3.8V0.891H4.3V0.877H4.5V0.855H5.5V0.832H5.9V0.787H6.6V0.723H7.05V0.678H7.55V0.627H10.05"/>
<path class="cl" d="M0,1H0.3V0.989H0.5V0.982H1V0.973H1.3V0.958H2V0.95H2.3V0.931H2.8V0.904H3V0.868H3.1V0.814H3.3V0.787H4V0.769H4.3V0.732H4.5V0.682H6.3V0.624H6.4V0.57H6.55V0.497H7.75"/>
</g>
<path class="a" d="M37,388.3V590.7H441M34.5,397.3H37M34.5,443.4H37M34.5,489.5H37M34.5,535.6H37M34.5,581.7H37M55.3,590.7v2.5M92,590.7v2.5M128.7,590.7v2.5M165.4,590.7v2.5M202.1,590.7v2.5M238.8,590.7v2.5M275.5,590.7v2.5M312.2,590.7v2.5M348.9,590.7v2.5M385.6,590.7v2.5M422.3,590.7v2.5"/>
<g class="tk" text-anchor="end"><text x="34" y="399.4">1.00</text><text x="34" y="445.5">0.75</text><text x="34" y="491.6">0.50</text><text x="34" y="537.7">0.25</text><text x="34" y="583.8">0.00</text></g>
<g class="tk" text-anchor="middle"><text x="55.3" y="598">0</text><text x="92" y="598">1</text><text x="128.7" y="598">2</text><text x="165.4" y="598">3</text><text x="202.1" y="598">4</text><text x="238.8" y="598">5</text><text x="275.5" y="598">6</text><text x="312.2" y="598">7</text><text x="348.9" y="598">8</text><text x="385.6" y="598">9</text><text x="422.3" y="598">10</text></g>
<text class="ax" x="239" y="605.5" text-anchor="middle">Time(years)</text>
<text class="ax" transform="translate(8.5,489.5) rotate(-90)" text-anchor="middle">Survival probability</text>
<text class="pv" x="61.5" y="547.3">p=0.005</text>
<path class="a" d="M37,624V672.3H441M34.5,637H37M34.5,659.3H37M55.3,672.3v2.5M92,672.3v2.5M128.7,672.3v2.5M165.4,672.3v2.5M202.1,672.3v2.5M238.8,672.3v2.5M275.5,672.3v2.5M312.2,672.3v2.5M348.9,672.3v2.5M385.6,672.3v2.5M422.3,672.3v2.5"/>
<text class="rh" x="34" y="639.1" text-anchor="end">High risk</text><text class="rl" x="34" y="661.4" text-anchor="end">Low risk</text>
<g class="tk" text-anchor="middle"><text x="55.3" y="680">0</text><text x="92" y="680">1</text><text x="128.7" y="680">2</text><text x="165.4" y="680">3</text><text x="202.1" y="680">4</text><text x="238.8" y="680">5</text><text x="275.5" y="680">6</text><text x="312.2" y="680">7</text><text x="348.9" y="680">8</text><text x="385.6" y="680">9</text><text x="422.3" y="680">10</text></g>
<text class="ax" x="239" y="687.5" text-anchor="middle">Time(years)</text>
<text class="ax" transform="translate(8.5,648) rotate(-90)" text-anchor="middle">Risk</text>
<g class="nm" text-anchor="middle"><text x="55.3" y="639.5">113</text><text x="92" y="639.5">99</text><text x="128.7" y="639.5">75</text><text x="165.4" y="639.5">62</text><text x="202.1" y="639.5">42</text><text x="238.8" y="639.5">27</text><text x="275.5" y="639.5">14</text><text x="312.2" y="639.5">3</text><text x="348.9" y="639.5">0</text><text x="385.6" y="639.5">0</text><text x="422.3" y="639.5">0</text>
<text x="55.3" y="661.8">193</text><text x="92" y="661.8">170</text><text x="128.7" y="661.8">137</text><text x="165.4" y="661.8">118</text><text x="202.1" y="661.8">87</text><text x="238.8" y="661.8">56</text><text x="275.5" y="661.8">32</text><text x="312.2" y="661.8">19</text><text x="348.9" y="661.8">11</text><text x="385.6" y="661.8">4</text><text x="422.3" y="661.8">1</text></g>
</g>

<!-- ================= PANEL H ================= -->
<g transform="translate(1330,0)">
<text class="L" x="1.5" y="377">H</text>
<text class="T" x="47.5" y="378" textLength="106" lengthAdjust="spacingAndGlyphs">Stage 3-4</text>
<text class="lg" x="201.5" y="376.3">Risk</text><rect class="cb" x="214.5" y="371" width="7" height="7"/><path d="M214.5,374.5h7" stroke="#59c3d2" stroke-width="0.8"/><text class="lg" x="224.5" y="376.3">High risk</text><rect class="yb" x="246.5" y="371" width="7" height="7"/><path d="M246.5,374.5h7" stroke="#cfd11c" stroke-width="0.8"/><text class="lg" x="256.5" y="376.3">Low risk</text>
<g transform="translate(55.3,581.7) scale(45.6,-184.4)">
<path class="yb" d="M0,1H0.85V0.976H1.4V0.935H2.1V0.899H2.6V0.877H3.3V0.85H4.3V0.832H5.4V0.814H8.4V0.51H5.4V0.579H3.3V0.602H2.5V0.66H2V0.714H1.5V0.769H1V0.868H0.3V1H0Z"/>
<path class="cb" d="M0,1H0.3V0.976H0.5V0.94H1V0.85H1.5V0.787H2V0.723H2.3V0.68H2.6V0.598H3.5V0.533H4.1V0.476H4.5V0.416H5.3V0.271H6.1V0.253H7.5V0.063H6.1V0.1H5.3V0.181H4.7V0.226H4.5V0.32H4V0.35H3.5V0.39H3V0.47H2.5V0.55H2V0.62H1.5V0.69H1V0.74H0.75V0.8H0.5V0.89H0.3V0.95H0.15V1H0Z"/>
<path class="ov" clip-path="url(#cH)" d="M0,1H0.85V0.976H1.4V0.935H2.1V0.899H2.6V0.877H3.3V0.85H4.3V0.832H5.4V0.814H8.4V0.51H5.4V0.579H3.3V0.602H2.5V0.66H2V0.714H1.5V0.769H1V0.868H0.3V1H0Z"/>
<path class="yl" d="M0,1H0.1V0.986H0.3V0.95H0.5V0.922H0.85V0.886H1.1V0.832H1.4V0.805H1.7V0.778H1.9V0.76H2.25V0.736H2.3V0.714H3.3V0.696H5.4V0.642H8.4"/>
<path class="cl" d="M0,1H0.1V0.986H0.2V0.95H0.35V0.91H0.5V0.877H0.65V0.837H0.8V0.801H1V0.769H1.2V0.732H1.4V0.705H1.6V0.678H1.8V0.651H2V0.624H2.3V0.588H2.5V0.552H2.7V0.515H2.9V0.479H3.2V0.443H3.5V0.421H3.8V0.407H4.1V0.38H4.3V0.353H4.5V0.307H4.7V0.253H5.3V0.163H6.1V0.127H7.5"/>
</g>
<path class="a" d="M37,388.3V590.7H441M34.5,397.3H37M34.5,443.4H37M34.5,489.5H37M34.5,535.6H37M34.5,581.7H37M55.3,590.7v2.5M100.9,590.7v2.5M146.5,590.7v2.5M192.1,590.7v2.5M237.7,590.7v2.5M283.3,590.7v2.5M328.9,590.7v2.5M374.5,590.7v2.5M420.1,590.7v2.5"/>
<g class="tk" text-anchor="end"><text x="34" y="399.4">1.00</text><text x="34" y="445.5">0.75</text><text x="34" y="491.6">0.50</text><text x="34" y="537.7">0.25</text><text x="34" y="583.8">0.00</text></g>
<g class="tk" text-anchor="middle"><text x="55.3" y="598">0</text><text x="100.9" y="598">1</text><text x="146.5" y="598">2</text><text x="192.1" y="598">3</text><text x="237.7" y="598">4</text><text x="283.3" y="598">5</text><text x="328.9" y="598">6</text><text x="374.5" y="598">7</text><text x="420.1" y="598">8</text></g>
<text class="ax" x="239" y="605.5" text-anchor="middle">Time(years)</text>
<text class="ax" transform="translate(8.5,489.5) rotate(-90)" text-anchor="middle">Survival probability</text>
<text class="pv" x="61.5" y="547.3">p&lt;0.001</text>
<path class="a" d="M37,624V672.3H441M34.5,637H37M34.5,659.3H37M55.3,672.3v2.5M100.9,672.3v2.5M146.5,672.3v2.5M192.1,672.3v2.5M237.7,672.3v2.5M283.3,672.3v2.5M328.9,672.3v2.5M374.5,672.3v2.5M420.1,672.3v2.5"/>
<text class="rh" x="34" y="639.1" text-anchor="end">High risk</text><text class="rl" x="34" y="661.4" text-anchor="end">Low risk</text>
<g class="tk" text-anchor="middle"><text x="55.3" y="680">0</text><text x="100.9" y="680">1</text><text x="146.5" y="680">2</text><text x="192.1" y="680">3</text><text x="237.7" y="680">4</text><text x="283.3" y="680">5</text><text x="328.9" y="680">6</text><text x="374.5" y="680">7</text><text x="420.1" y="680">8</text></g>
<text class="ax" x="239" y="687.5" text-anchor="middle">Time(years)</text>
<text class="ax" transform="translate(8.5,648) rotate(-90)" text-anchor="middle">Risk</text>
<g class="nm" text-anchor="middle"><text x="55.3" y="639.5">137</text><text x="100.9" y="639.5">95</text><text x="146.5" y="639.5">74</text><text x="192.1" y="639.5">50</text><text x="237.7" y="639.5">34</text><text x="283.3" y="639.5">16</text><text x="328.9" y="639.5">5</text><text x="374.5" y="639.5">2</text><text x="420.1" y="639.5">0</text>
<text x="55.3" y="661.8">61</text><text x="100.9" y="661.8">49</text><text x="146.5" y="661.8">36</text><text x="192.1" y="661.8">33</text><text x="237.7" y="661.8">27</text><text x="283.3" y="661.8">17</text><text x="328.9" y="661.8">11</text><text x="374.5" y="661.8">6</text><text x="420.1" y="661.8">2</text></g>
</g>

<!-- ================= PANEL I ================= -->
<g transform="translate(0,0)">
<text class="L" x="4.7" y="706.5">I</text>
<text class="T" x="45" y="706" textLength="48" lengthAdjust="spacingAndGlyphs">T1-2</text>
<text class="lg" x="201.5" y="704.8">Risk</text><rect class="cb" x="214.5" y="699.5" width="7" height="7"/><path d="M214.5,703h7" stroke="#59c3d2" stroke-width="0.8"/><text class="lg" x="224.5" y="704.8">High risk</text><rect class="yb" x="246.5" y="699.5" width="7" height="7"/><path d="M246.5,703h7" stroke="#cfd11c" stroke-width="0.8"/><text class="lg" x="256.5" y="704.8">Low risk</text>
<g transform="translate(55.3,910) scale(36.7,-184.7)">
<path class="yb" d="M0,1H2.5V0.978H3V0.969H3.6V0.951H4.3V0.924H5V0.906H5.6V0.892H6V0.879H6.6V0.861H7.6V0.794H10.05V0.473H7.6V0.54H7.3V0.599H6.6V0.68H6V0.744H5.5V0.78H4.5V0.816H4.1V0.861H3.8V0.888H3.5V0.91H2.6V0.924H2V0.951H1.5V0.96H1V0.97H0.5V1H0Z"/>
<path class="cb" d="M0,1H1V0.978H1.5V0.96H2V0.939H2.5V0.915H3V0.888H3.3V0.816H4.3V0.753H4.5V0.744H6V0.72H7.8V0.319H6.55V0.383H6.2V0.527H4.45V0.617H4.3V0.653H3.5V0.69H3.1V0.726H3V0.798H2.5V0.834H2V0.87H1.5V0.906H1V0.942H0.5V0.97H0.3V1H0Z"/>
<path class="ov" clip-path="url(#cI)" d="M0,1H2.5V0.978H3V0.969H3.6V0.951H4.3V0.924H5V0.906H5.6V0.892H6V0.879H6.6V0.861H7.6V0.794H10.05V0.473H7.6V0.54H7.3V0.599H6.6V0.68H6V0.744H5.5V0.78H4.5V0.816H4.1V0.861H3.8V0.888H3.5V0.91H2.6V0.924H2V0.951H1.5V0.96H1V0.97H0.5V1H0Z"/>
<path class="yl" d="M0,1H0.5V0.991H1V0.982H1.5V0.973H2V0.96H2.6V0.942H3.5V0.933H3.8V0.897H4.1V0.879H4.5V0.852H4.7V0.839H5.6V0.816H6V0.78H6.6V0.744H7V0.708H7.4V0.671H7.6V0.617H10.05"/>
<path class="cl" d="M0,1H0.3V0.987H0.5V0.969H0.8V0.951H1V0.933H1.3V0.915H1.6V0.897H2V0.879H2.5V0.856H2.8V0.834H3V0.798H3.1V0.753H3.5V0.735H3.9V0.717H4.3V0.708H4.45V0.626H6.2V0.545H6.4V0.509H6.55V0.455H7.8"/>
</g>
<path class="a" d="M37,716V919.3H441M34.5,725.3H37M34.5,771.5H37M34.5,817.7H37M34.5,863.8H37M34.5,910H37M55.3,919.3v2.5M92,919.3v2.5M128.7,919.3v2.5M165.4,919.3v2.5M202.1,919.3v2.5M238.8,919.3v2.5M275.5,919.3v2.5M312.2,919.3v2.5M348.9,919.3v2.5M385.6,919.3v2.5M422.3,919.3v2.5"/>
<g class="tk" text-anchor="end"><text x="34" y="727.4">1.00</text><text x="34" y="773.6">0.75</text><text x="34" y="819.8">0.50</text><text x="34" y="865.9">0.25</text><text x="34" y="912.1">0.00</text></g>
<g class="tk" text-anchor="middle"><text x="55.3" y="926.6">0</text><text x="92" y="926.6">1</text><text x="128.7" y="926.6">2</text><text x="165.4" y="926.6">3</text><text x="202.1" y="926.6">4</text><text x="238.8" y="926.6">5</text><text x="275.5" y="926.6">6</text><text x="312.2" y="926.6">7</text><text x="348.9" y="926.6">8</text><text x="385.6" y="926.6">9</text><text x="422.3" y="926.6">10</text></g>
<text class="ax" x="239" y="934.5" text-anchor="middle">Time(years)</text>
<text class="ax" transform="translate(8.5,817.7) rotate(-90)" text-anchor="middle">Survival probability</text>
<text class="pv" x="61.5" y="876">p&lt;0.001</text>
<path class="a" d="M37,952.7V1000H441M34.5,965.3H37M34.5,987.7H37M55.3,1000v2.5M92,1000v2.5M128.7,1000v2.5M165.4,1000v2.5M202.1,1000v2.5M238.8,1000v2.5M275.5,1000v2.5M312.2,1000v2.5M348.9,1000v2.5M385.6,1000v2.5M422.3,1000v2.5"/>
<text class="rh" x="34" y="967.4" text-anchor="end">High risk</text><text class="rl" x="34" y="989.8" text-anchor="end">Low risk</text>
<g class="tk" text-anchor="middle"><text x="55.3" y="1008.3">0</text><text x="92" y="1008.3">1</text><text x="128.7" y="1008.3">2</text><text x="165.4" y="1008.3">3</text><text x="202.1" y="1008.3">4</text><text x="238.8" y="1008.3">5</text><text x="275.5" y="1008.3">6</text><text x="312.2" y="1008.3">7</text><text x="348.9" y="1008.3">8</text><text x="385.6" y="1008.3">9</text><text x="422.3" y="1008.3">10</text></g>
<text class="ax" x="239" y="1016.5" text-anchor="middle">Time(years)</text>
<text class="ax" transform="translate(8.5,977) rotate(-90)" text-anchor="middle">Risk</text>
<g class="nm" text-anchor="middle"><text x="55.3" y="967.8">127</text><text x="92" y="967.8">107</text><text x="128.7" y="967.8">81</text><text x="165.4" y="967.8">67</text><text x="202.1" y="967.8">47</text><text x="238.8" y="967.8">31</text><text x="275.5" y="967.8">17</text><text x="312.2" y="967.8">4</text><text x="348.9" y="967.8">0</text><text x="385.6" y="967.8">0</text><text x="422.3" y="967.8">0</text>
<text x="55.3" y="990.2">197</text><text x="92" y="990.2">173</text><text x="128.7" y="990.2">138</text><text x="165.4" y="990.2">118</text><text x="202.1" y="990.2">87</text><text x="238.8" y="990.2">56</text><text x="275.5" y="990.2">32</text><text x="312.2" y="990.2">19</text><text x="348.9" y="990.2">11</text><text x="385.6" y="990.2">4</text><text x="422.3" y="990.2">1</text></g>
</g>

<!-- ================= PANEL J ================= -->
<g transform="translate(445.5,0)">
<text class="L" x="0" y="706.5">J</text>
<text class="T" x="46" y="706" textLength="50" lengthAdjust="spacingAndGlyphs">T3-4</text>
<text class="lg" x="201.5" y="704.8">Risk</text><rect class="cb" x="214.5" y="699.5" width="7" height="7"/><path d="M214.5,703h7" stroke="#59c3d2" stroke-width="0.8"/><text class="lg" x="224.5" y="704.8">High risk</text><rect class="yb" x="246.5" y="699.5" width="7" height="7"/><path d="M246.5,703h7" stroke="#cfd11c" stroke-width="0.8"/><text class="lg" x="256.5" y="704.8">Low risk</text>
<g transform="translate(55.3,910) scale(45.6,-184.7)">
<path class="yb" d="M0,1H0.85V0.976H1.4V0.935H2.1V0.899H2.6V0.877H3.3V0.85H4.3V0.832H5.4V0.814H8.4V0.51H5.4V0.579H3.3V0.602H2.5V0.66H2V0.714H1.5V0.769H1V0.868H0.3V1H0Z"/>
<path class="cb" d="M0,1H0.3V0.976H0.5V0.94H1V0.85H1.5V0.787H2V0.723H2.3V0.68H2.6V0.598H3.5V0.533H4.1V0.476H4.5V0.416H5.3V0.271H6.1V0.253H7.5V0.063H6.1V0.1H5.3V0.181H4.7V0.226H4.5V0.32H4V0.35H3.5V0.39H3V0.47H2.5V0.55H2V0.62H1.5V0.69H1V0.74H0.75V0.8H0.5V0.89H0.3V0.95H0.15V1H0Z"/>
<path class="ov" clip-path="url(#cH)" d="M0,1H0.85V0.976H1.4V0.935H2.1V0.899H2.6V0.877H3.3V0.85H4.3V0.832H5.4V0.814H8.4V0.51H5.4V0.579H3.3V0.602H2.5V0.66H2V0.714H1.5V0.769H1V0.868H0.3V1H0Z"/>
<path class="yl" d="M0,1H0.1V0.986H0.3V0.95H0.5V0.922H0.85V0.886H1.1V0.832H1.4V0.805H1.7V0.778H1.9V0.76H2.25V0.736H2.3V0.714H3.3V0.696H5.4V0.642H8.4"/>
<path class="cl" d="M0,1H0.1V0.986H0.2V0.95H0.35V0.91H0.5V0.877H0.65V0.837H0.8V0.801H1V0.769H1.2V0.732H1.4V0.705H1.6V0.678H1.8V0.651H2V0.624H2.3V0.588H2.5V0.552H2.7V0.515H2.9V0.479H3.2V0.443H3.5V0.421H3.8V0.407H4.1V0.38H4.3V0.353H4.5V0.307H4.7V0.253H5.3V0.163H6.1V0.127H7.5"/>
</g>
<path class="a" d="M37,716V919.3H441M34.5,725.3H37M34.5,771.5H37M34.5,817.7H37M34.5,863.8H37M34.5,910H37M55.3,919.3v2.5M100.9,919.3v2.5M146.5,919.3v2.5M192.1,919.3v2.5M237.7,919.3v2.5M283.3,919.3v2.5M328.9,919.3v2.5M374.5,919.3v2.5M420.1,919.3v2.5"/>
<g class="tk" text-anchor="end"><text x="34" y="727.4">1.00</text><text x="34" y="773.6">0.75</text><text x="34" y="819.8">0.50</text><text x="34" y="865.9">0.25</text><text x="34" y="912.1">0.00</text></g>
<g class="tk" text-anchor="middle"><text x="55.3" y="926.6">0</text><text x="100.9" y="926.6">1</text><text x="146.5" y="926.6">2</text><text x="192.1" y="926.6">3</text><text x="237.7" y="926.6">4</text><text x="283.3" y="926.6">5</text><text x="328.9" y="926.6">6</text><text x="374.5" y="926.6">7</text><text x="420.1" y="926.6">8</text></g>
<text class="ax" x="239" y="934.5" text-anchor="middle">Time(years)</text>
<text class="ax" transform="translate(8.5,817.7) rotate(-90)" text-anchor="middle">Survival probability</text>
<text class="pv" x="61.5" y="876">p&lt;0.001</text>
<path class="a" d="M37,952.7V1000H441M34.5,965.3H37M34.5,987.7H37M55.3,1000v2.5M100.9,1000v2.5M146.5,1000v2.5M192.1,1000v2.5M237.7,1000v2.5M283.3,1000v2.5M328.9,1000v2.5M374.5,1000v2.5M420.1,1000v2.5"/>
<text class="rh" x="34" y="967.4" text-anchor="end">High risk</text><text class="rl" x="34" y="989.8" text-anchor="end">Low risk</text>
<g class="tk" text-anchor="middle"><text x="55.3" y="1008.3">0</text><text x="100.9" y="1008.3">1</text><text x="146.5" y="1008.3">2</text><text x="192.1" y="1008.3">3</text><text x="237.7" y="1008.3">4</text><text x="283.3" y="1008.3">5</text><text x="328.9" y="1008.3">6</text><text x="374.5" y="1008.3">7</text><text x="420.1" y="1008.3">8</text></g>
<text class="ax" x="239" y="1016.5" text-anchor="middle">Time(years)</text>
<text class="ax" transform="translate(8.5,977) rotate(-90)" text-anchor="middle">Risk</text>
<g class="nm" text-anchor="middle"><text x="55.3" y="967.8">137</text><text x="100.9" y="967.8">95</text><text x="146.5" y="967.8">74</text><text x="192.1" y="967.8">50</text><text x="237.7" y="967.8">34</text><text x="283.3" y="967.8">16</text><text x="328.9" y="967.8">5</text><text x="374.5" y="967.8">2</text><text x="420.1" y="967.8">0</text>
<text x="55.3" y="990.2">61</text><text x="100.9" y="990.2">49</text><text x="146.5" y="990.2">36</text><text x="192.1" y="990.2">33</text><text x="237.7" y="990.2">27</text><text x="283.3" y="990.2">17</text><text x="328.9" y="990.2">11</text><text x="374.5" y="990.2">6</text><text x="420.1" y="990.2">2</text></g>
</g>

<!-- ================= PANEL K ================= -->
<g transform="translate(888.5,0)">
<text class="L" x="-0.5" y="706.5">K</text>
<text class="T" x="47" y="706" textLength="36" lengthAdjust="spacingAndGlyphs">M0</text>
<text class="lg" x="201.5" y="704.8">Risk</text><rect class="cb" x="214.5" y="699.5" width="7" height="7"/><path d="M214.5,703h7" stroke="#59c3d2" stroke-width="0.8"/><text class="lg" x="224.5" y="704.8">High risk</text><rect class="yb" x="246.5" y="699.5" width="7" height="7"/><path d="M246.5,703h7" stroke="#cfd11c" stroke-width="0.8"/><text class="lg" x="256.5" y="704.8">Low risk</text>
<g transform="translate(55.3,910) scale(36.7,-184.7)">
<path class="yb" d="M0,1H2.6V0.978H3.5V0.96H4.3V0.939H5V0.915H5.7V0.888H6.5V0.87H7.2V0.839H7.65V0.801H10.05V0.531H7.65V0.581H7.2V0.645H6.5V0.708H6V0.744H5.5V0.78H4.8V0.807H4.3V0.852H3.7V0.879H3.5V0.897H2.5V0.905H2V0.93H1.5V0.96H1V0.975H0.5V1H0Z"/>
<path class="cb" d="M0,1H0.5V0.987H1V0.964H1.5V0.942H2V0.915H2.3V0.879H2.5V0.852H3V0.78H3.5V0.735H4V0.717H4.3V0.681H4.5V0.644H5V0.617H5.2V0.596H6.5V0.536H7.8V0.26H6.5V0.347H6.3V0.392H5.2V0.446H5V0.5H4.5V0.536H4.3V0.581H4V0.608H3.5V0.662H3V0.762H2.5V0.843H2V0.879H1.5V0.915H1V0.92H0.5V0.955H0.3V1H0Z"/>
<path class="ov" clip-path="url(#cK)" d="M0,1H2.6V0.978H3.5V0.96H4.3V0.939H5V0.915H5.7V0.888H6.5V0.87H7.2V0.839H7.65V0.801H10.05V0.531H7.65V0.581H7.2V0.645H6.5V0.708H6V0.744H5.5V0.78H4.8V0.807H4.3V0.852H3.7V0.879H3.5V0.897H2.5V0.905H2V0.93H1.5V0.96H1V0.975H0.5V1H0Z"/>
<path class="yl" d="M0,1H0.3V0.993H0.5V0.987H1V0.978H1.5V0.96H2V0.942H2.5V0.924H3.5V0.915H3.7V0.897H4V0.879H4.3V0.861H4.6V0.843H5.5V0.834H5.7V0.816H6V0.783H6.5V0.753H6.8V0.729H7.2V0.693H7.65V0.653H10.05"/>
<path class="cl" d="M0,1H0.2V0.982H0.4V0.964H0.6V0.946H0.9V0.933H1.2V0.924H1.5V0.91H1.8V0.888H2V0.874H2.3V0.843H2.5V0.801H2.7V0.762H2.9V0.735H3.1V0.708H3.3V0.681H3.6V0.662H3.9V0.65H4.1V0.632H4.3V0.608H4.4V0.572H4.6V0.545H4.8V0.527H5.2V0.491H6.3V0.428H6.5V0.383H7.8"/>
</g>
<path class="a" d="M37,716V919.3H441M34.5,725.3H37M34.5,771.5H37M34.5,817.7H37M34.5,863.8H37M34.5,910H37M55.3,919.3v2.5M92,919.3v2.5M128.7,919.3v2.5M165.4,919.3v2.5M202.1,919.3v2.5M238.8,919.3v2.5M275.5,919.3v2.5M312.2,919.3v2.5M348.9,919.3v2.5M385.6,919.3v2.5M422.3,919.3v2.5"/>
<g class="tk" text-anchor="end"><text x="34" y="727.4">1.00</text><text x="34" y="773.6">0.75</text><text x="34" y="819.8">0.50</text><text x="34" y="865.9">0.25</text><text x="34" y="912.1">0.00</text></g>
<g class="tk" text-anchor="middle"><text x="55.3" y="926.6">0</text><text x="92" y="926.6">1</text><text x="128.7" y="926.6">2</text><text x="165.4" y="926.6">3</text><text x="202.1" y="926.6">4</text><text x="238.8" y="926.6">5</text><text x="275.5" y="926.6">6</text><text x="312.2" y="926.6">7</text><text x="348.9" y="926.6">8</text><text x="385.6" y="926.6">9</text><text x="422.3" y="926.6">10</text></g>
<text class="ax" x="239" y="934.5" text-anchor="middle">Time(years)</text>
<text class="ax" transform="translate(8.5,817.7) rotate(-90)" text-anchor="middle">Survival probability</text>
<text class="pv" x="61.5" y="876">p&lt;0.001</text>
<path class="a" d="M37,952.7V1000H441M34.5,965.3H37M34.5,987.7H37M55.3,1000v2.5M92,1000v2.5M128.7,1000v2.5M165.4,1000v2.5M202.1,1000v2.5M238.8,1000v2.5M275.5,1000v2.5M312.2,1000v2.5M348.9,1000v2.5M385.6,1000v2.5M422.3,1000v2.5"/>
<text class="rh" x="34" y="967.4" text-anchor="end">High risk</text><text class="rl" x="34" y="989.8" text-anchor="end">Low risk</text>
<g class="tk" text-anchor="middle"><text x="55.3" y="1008.3">0</text><text x="92" y="1008.3">1</text><text x="128.7" y="1008.3">2</text><text x="165.4" y="1008.3">3</text><text x="202.1" y="1008.3">4</text><text x="238.8" y="1008.3">5</text><text x="275.5" y="1008.3">6</text><text x="312.2" y="1008.3">7</text><text x="348.9" y="1008.3">8</text><text x="385.6" y="1008.3">9</text><text x="422.3" y="1008.3">10</text></g>
<text class="ax" x="239" y="1016.5" text-anchor="middle">Time(years)</text>
<text class="ax" transform="translate(8.5,977) rotate(-90)" text-anchor="middle">Risk</text>
<g class="nm" text-anchor="middle"><text x="55.3" y="967.8">179</text><text x="92" y="967.8">149</text><text x="128.7" y="967.8">119</text><text x="165.4" y="967.8">91</text><text x="202.1" y="967.8">60</text><text x="238.8" y="967.8">33</text><text x="275.5" y="967.8">16</text><text x="312.2" y="967.8">4</text><text x="348.9" y="967.8">0</text><text x="385.6" y="967.8">0</text><text x="422.3" y="967.8">0</text>
<text x="55.3" y="990.2">222</text><text x="92" y="990.2">197</text><text x="128.7" y="990.2">161</text><text x="165.4" y="990.2">143</text><text x="202.1" y="990.2">107</text><text x="238.8" y="990.2">67</text><text x="275.5" y="990.2">40</text><text x="312.2" y="990.2">24</text><text x="348.9" y="990.2">13</text><text x="385.6" y="990.2">4</text><text x="422.3" y="990.2">1</text></g>
</g>

<!-- ================= PANEL L ================= -->
<g transform="translate(1330,0)">
<text class="L" x="2.5" y="706.5">L</text>
<text class="T" x="46" y="706" textLength="33" lengthAdjust="spacingAndGlyphs">M1</text>
<text class="lg" x="201.5" y="704.8">Risk</text><rect class="cb" x="214.5" y="699.5" width="7" height="7"/><path d="M214.5,703h7" stroke="#59c3d2" stroke-width="0.8"/><text class="lg" x="224.5" y="704.8">High risk</text><rect class="yb" x="246.5" y="699.5" width="7" height="7"/><path d="M246.5,703h7" stroke="#cfd11c" stroke-width="0.8"/><text class="lg" x="256.5" y="704.8">Low risk</text>
<g transform="translate(55.3,910) scale(45.6,-184.7)">
<path class="yb" d="M0,1H2V0.969H2.1V0.87H3.3V0.825H5.35V0.762H7.2V0.193H5.35V0.283H3.3V0.355H2.1V0.53H1.5V0.63H0.95V0.744H0.6V0.84H0.25V1H0Z"/>
<path class="cb" d="M0,1H0.4V0.96H0.6V0.879H0.9V0.78H1V0.74H1.5V0.617H2V0.563H2.5V0.509H3V0.455H3.5V0.401H4V0.347H4.5V0.31H5V0.283H5.5V0.278H6.1V0.229H7.5V0.025H6.1V0.054H5.5V0.112H5V0.148H4.5V0.193H4V0.229H3.5V0.265H3V0.31H2.5V0.364H2V0.437H1.5V0.5H1V0.64H0.75V0.798H0.5V0.888H0.3V0.95H0.2V1H0Z"/>
<path class="ov" clip-path="url(#cL)" d="M0,1H2V0.969H2.1V0.87H3.3V0.825H5.35V0.762H7.2V0.193H5.35V0.283H3.3V0.355H2.1V0.53H1.5V0.63H0.95V0.744H0.6V0.84H0.25V1H0Z"/>
<path class="yl" d="M0,1H0.25V0.942H0.6V0.879H0.95V0.767H1.5V0.695H1.95V0.626H2.1V0.554H3.3V0.477H5.35V0.383H7.2"/>
<path class="cl" d="M0,1H0.2V0.971H0.3V0.933H0.4V0.906H0.5V0.861H0.6V0.798H0.75V0.744H0.9V0.671H1V0.617H1.1V0.59H1.3V0.563H1.4V0.527H1.6V0.509H1.8V0.472H2V0.445H2.3V0.418H2.5V0.391H2.8V0.364H3.2V0.347H3.4V0.319H3.7V0.292H4V0.274H4.3V0.247H4.6V0.211H4.8V0.184H5.3V0.157H5.5V0.12H6.2V0.079H7.45"/>
</g>
<path class="a" d="M37,716V919.3H441M34.5,725.3H37M34.5,771.5H37M34.5,817.7H37M34.5,863.8H37M34.5,910H37M55.3,919.3v2.5M100.9,919.3v2.5M146.5,919.3v2.5M192.1,919.3v2.5M237.7,919.3v2.5M283.3,919.3v2.5M328.9,919.3v2.5M374.5,919.3v2.5M420.1,919.3v2.5"/>
<g class="tk" text-anchor="end"><text x="34" y="727.4">1.00</text><text x="34" y="773.6">0.75</text><text x="34" y="819.8">0.50</text><text x="34" y="865.9">0.25</text><text x="34" y="912.1">0.00</text></g>
<g class="tk" text-anchor="middle"><text x="55.3" y="926.6">0</text><text x="100.9" y="926.6">1</text><text x="146.5" y="926.6">2</text><text x="192.1" y="926.6">3</text><text x="237.7" y="926.6">4</text><text x="283.3" y="926.6">5</text><text x="328.9" y="926.6">6</text><text x="374.5" y="926.6">7</text><text x="420.1" y="926.6">8</text></g>
<text class="ax" x="239" y="934.5" text-anchor="middle">Time(years)</text>
<text class="ax" transform="translate(8.5,817.7) rotate(-90)" text-anchor="middle">Survival probability</text>
<text class="pv" x="61.5" y="876">p=0.031</text>
<path class="a" d="M37,952.7V1000H441M34.5,965.3H37M34.5,987.7H37M55.3,1000v2.5M100.9,1000v2.5M146.5,1000v2.5M192.1,1000v2.5M237.7,1000v2.5M283.3,1000v2.5M328.9,1000v2.5M374.5,1000v2.5M420.1,1000v2.5"/>
<text class="rh" x="34" y="967.4" text-anchor="end">High risk</text><text class="rl" x="34" y="989.8" text-anchor="end">Low risk</text>
<g class="tk" text-anchor="middle"><text x="55.3" y="1008.3">0</text><text x="100.9" y="1008.3">1</text><text x="146.5" y="1008.3">2</text><text x="192.1" y="1008.3">3</text><text x="237.7" y="1008.3">4</text><text x="283.3" y="1008.3">5</text><text x="328.9" y="1008.3">6</text><text x="374.5" y="1008.3">7</text><text x="420.1" y="1008.3">8</text></g>
<text class="ax" x="239" y="1016.5" text-anchor="middle">Time(years)</text>
<text class="ax" transform="translate(8.5,977) rotate(-90)" text-anchor="middle">Risk</text>
<g class="nm" text-anchor="middle"><text x="55.3" y="967.8">61</text><text x="100.9" y="967.8">36</text><text x="146.5" y="967.8">26</text><text x="192.1" y="967.8">19</text><text x="237.7" y="967.8">14</text><text x="283.3" y="967.8">9</text><text x="328.9" y="967.8">3</text><text x="374.5" y="967.8">1</text><text x="420.1" y="967.8">0</text>
<text x="55.3" y="990.2">17</text><text x="100.9" y="990.2">13</text><text x="146.5" y="990.2">9</text><text x="192.1" y="990.2">7</text><text x="237.7" y="990.2">6</text><text x="283.3" y="990.2">5</text><text x="328.9" y="990.2">3</text><text x="374.5" y="990.2">1</text><text x="420.1" y="990.2">0</text></g>
</g>

</svg>
</body></html>
